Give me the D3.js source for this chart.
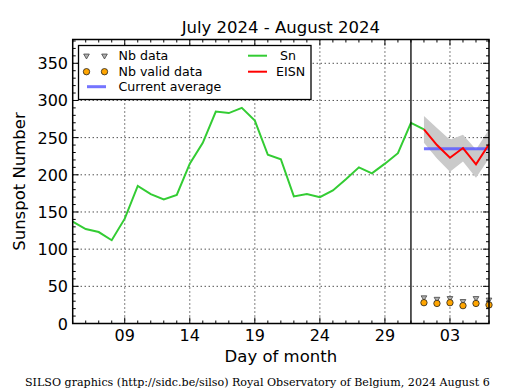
<!DOCTYPE html>
<html><head><meta charset="utf-8">
<script src="https://cdn.jsdelivr.net/npm/d3@7"></script>
<style>body{margin:0;background:#fff}svg{display:block}text{font-family:"DejaVu Sans",sans-serif}</style>
</head><body>
<script>
// ---- data ----
const snDates = ["2024-07-05","2024-07-06","2024-07-07","2024-07-08","2024-07-09","2024-07-10","2024-07-11","2024-07-12","2024-07-13","2024-07-14","2024-07-15","2024-07-16","2024-07-17","2024-07-18","2024-07-19","2024-07-20","2024-07-21","2024-07-22","2024-07-23","2024-07-24","2024-07-25","2024-07-26","2024-07-27","2024-07-28","2024-07-29","2024-07-30","2024-07-31","2024-08-01"];
const snValues = [137,127,123,112,141,185,174,167,173,215,243,285,283,290,273,227,221,171,174,170,179,194,210,202,215,229,270,261];
const eisnDates = ["2024-08-01","2024-08-02","2024-08-03","2024-08-04","2024-08-05","2024-08-06"];
const eisnValues = [261,240,223,236,214,241];
const eisnUpper = [279,263,247,254,234,261];
const eisnLower = [243,222,204,218,196,222];
const currentAverage = 235;
const nbData = [35,33,34,30,34,32];
const nbValid = [28,27,28,24,27,25];
const xTickDates = ["2024-07-09","2024-07-14","2024-07-19","2024-07-24","2024-07-29","2024-08-03"];
const yTicks = [0,50,100,150,200,250,300,350];
const separatorDate = "2024-07-31";
const xStart = "2024-07-05", xEnd = "2024-08-06";
const yMax = 382;

const W = 515, H = 390;
const L = 72.7, R = 489, T = 39.5, B = 323.5;
const p = d3.utcParse("%Y-%m-%d");
const x = d3.scaleUtc().domain([p(xStart), p(xEnd)]).range([L, R]);
const y = d3.scaleLinear().domain([0, yMax]).range([B, T]);

const svg = d3.select("body").append("svg").attr("width", W).attr("height", H);

// grid
const g = svg.append("g");
g.selectAll(".gx").data(xTickDates).join("line")
  .attr("x1", d => x(p(d))).attr("x2", d => x(p(d))).attr("y1", T).attr("y2", B)
  .attr("stroke", "#000").attr("stroke-width", 1).attr("stroke-dasharray", "1,3");
g.selectAll(".gy").data(yTicks.filter(v => v > 0)).join("line")
  .attr("x1", L).attr("x2", R).attr("y1", d => y(d)).attr("y2", d => y(d))
  .attr("stroke", "#000").attr("stroke-width", 1).attr("stroke-dasharray", "1,3");

// band
const eis = eisnDates.map((d, i) => ({d: p(d), v: eisnValues[i], hi: eisnUpper[i], lo: eisnLower[i]}));
svg.append("path").datum(eis)
  .attr("d", d3.area().x(d => x(d.d)).y0(d => y(d.lo)).y1(d => y(d.hi)))
  .attr("fill", "#cacaca").attr("stroke", "none");

// current average
svg.append("line")
  .attr("x1", x(p(eisnDates[0]))).attr("x2", x(p(eisnDates[eisnDates.length - 1])))
  .attr("y1", y(currentAverage)).attr("y2", y(currentAverage))
  .attr("stroke", "#5c5cff").attr("stroke-opacity", 0.85).attr("stroke-width", 3);

// Sn line
const sn = snDates.map((d, i) => ({d: p(d), v: snValues[i]}));
svg.append("path").datum(sn)
  .attr("d", d3.line().x(d => x(d.d)).y(d => y(d.v)))
  .attr("fill", "none").attr("stroke", "#33cc33").attr("stroke-width", 2);

// EISN
svg.append("path").datum(eis)
  .attr("d", d3.line().x(d => x(d.d)).y(d => y(d.v)))
  .attr("fill", "none").attr("stroke", "#ff0000").attr("stroke-width", 2);

// separator
svg.append("line").attr("x1", x(p(separatorDate))).attr("x2", x(p(separatorDate)))
  .attr("y1", T).attr("y2", B).attr("stroke", "#000").attr("stroke-width", 1.3);

// markers
const tri = d3.symbol().type(d3.symbolTriangle).size(14);
svg.selectAll(".nbd").data(eisnDates).join("path")
  .attr("d", tri).attr("transform", (d, i) => `translate(${x(p(d))},${y(nbData[i])}) rotate(180)`)
  .attr("fill", "#b0b0b0").attr("stroke", "#444").attr("stroke-width", 0.8);
svg.selectAll(".nbv").data(eisnDates).join("circle")
  .attr("cx", d => x(p(d))).attr("cy", (d, i) => y(nbValid[i])).attr("r", 3.2)
  .attr("fill", "#ffa500").attr("stroke", "#222").attr("stroke-width", 0.8);

// frame
svg.append("rect").attr("x", L).attr("y", T).attr("width", R - L).attr("height", B - T)
  .attr("fill", "none").attr("stroke", "#000").attr("stroke-width", 1.5);

// ticks (inward, all sides)
const days = d3.utcDay.range(p(xStart), d3.utcDay.offset(p(xEnd), 1));
const majorX = new Set(xTickDates);
const fmtD = d3.utcFormat("%Y-%m-%d");
days.forEach(d => {
  const len = majorX.has(fmtD(d)) ? 6 : 3;
  const xx = x(d);
  svg.append("line").attr("x1", xx).attr("x2", xx).attr("y1", B).attr("y2", B - len).attr("stroke", "#000");
  svg.append("line").attr("x1", xx).attr("x2", xx).attr("y1", T).attr("y2", T + len).attr("stroke", "#000");
});
d3.range(0, yMax, 10).forEach(v => {
  const len = v % 50 === 0 ? 6 : 3;
  const yy = y(v);
  svg.append("line").attr("x1", L).attr("x2", L + len).attr("y1", yy).attr("y2", yy).attr("stroke", "#000");
  svg.append("line").attr("x1", R).attr("x2", R - len).attr("y1", yy).attr("y2", yy).attr("stroke", "#000");
});

// tick labels
svg.selectAll(".xl").data(xTickDates).join("text")
  .attr("x", d => x(p(d))).attr("y", 341).attr("text-anchor", "middle")
  .attr("font-size", 16).text(d => d3.utcFormat("%d")(p(d)));
svg.selectAll(".yl").data(yTicks).join("text")
  .attr("x", 68).attr("y", d => y(d) + 6).attr("text-anchor", "end")
  .attr("font-size", 16).text(d => d);

// titles
svg.append("text").attr("x", (L + R) / 2).attr("y", 32.5).attr("text-anchor", "middle")
  .attr("font-size", 16.5).text("July 2024 - August 2024");
svg.append("text").attr("x", (L + R) / 2).attr("y", 362).attr("text-anchor", "middle")
  .attr("font-size", 16.5).text("Day of month");
svg.append("text").attr("transform", `translate(25,${(T + B) / 2}) rotate(-90)`).attr("text-anchor", "middle")
  .attr("font-size", 16.5).text("Sunspot Number");
svg.append("text").attr("x", 25).attr("y", 385.5).attr("font-size", 11.1)
  .style("font-family", "'DejaVu Serif', serif").text("SILSO graphics (http://sidc.be/silso) Royal Observatory of Belgium, 2024 August 6");

// legend
const lg = svg.append("g");
lg.append("rect").attr("x", 78.5).attr("y", 45.5).attr("width", 232.5).attr("height", 54)
  .attr("fill", "#fff").attr("stroke", "#000").attr("stroke-width", 1.3);
const rows = [55.7, 71.7, 86.7];
[86.5, 104.5].forEach(mx => {
  lg.append("path").attr("d", tri).attr("transform", `translate(${mx},${rows[0]}) rotate(180)`)
    .attr("fill", "#b0b0b0").attr("stroke", "#444").attr("stroke-width", 0.8);
  lg.append("circle").attr("cx", mx).attr("cy", rows[1]).attr("r", 3.2)
    .attr("fill", "#ffa500").attr("stroke", "#222").attr("stroke-width", 0.8);
});
lg.append("line").attr("x1", 87).attr("x2", 106).attr("y1", rows[2]).attr("y2", rows[2])
  .attr("stroke", "#5c5cff").attr("stroke-opacity", 0.85).attr("stroke-width", 3);
lg.append("line").attr("x1", 248).attr("x2", 267).attr("y1", rows[0]).attr("y2", rows[0])
  .attr("stroke", "#33cc33").attr("stroke-width", 2);
lg.append("line").attr("x1", 248).attr("x2", 267).attr("y1", rows[1]).attr("y2", rows[1])
  .attr("stroke", "#ff0000").attr("stroke-width", 2);
const lt = [["Nb data", 118.5, rows[0]], ["Nb valid data", 118.5, rows[1]], ["Current average", 118.5, rows[2]], ["Sn", 280, rows[0]], ["EISN", 276, rows[1]]];
lg.selectAll(".lt").data(lt).join("text").attr("x", d => d[1]).attr("y", d => d[2] + 4.6)
  .attr("font-size", 12.6).text(d => d[0]);
</script>
</body></html>
